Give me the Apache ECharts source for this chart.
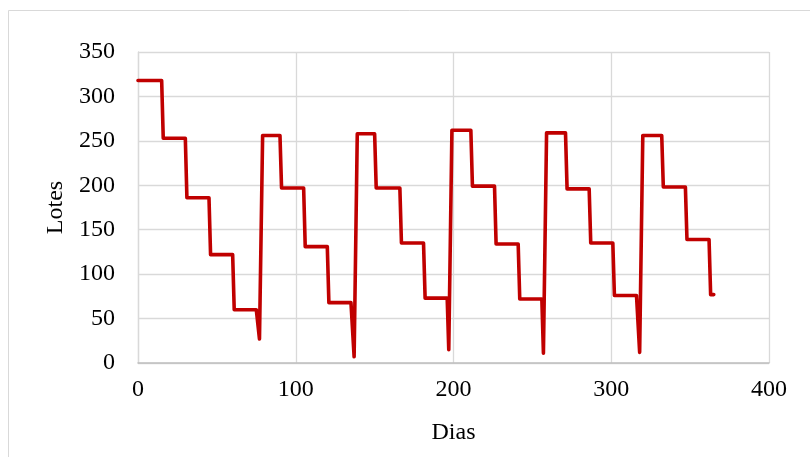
<!DOCTYPE html>
<html>
<head>
<meta charset="utf-8">
<script src="https://cdn.jsdelivr.net/npm/echarts@6/dist/echarts.min.js"></script>
<style>
  html, body { margin: 0; padding: 0; background: #fff; }
  #chart { width: 810px; height: 457px; }
</style>
</head>
<body>
<div id="chart"></div>
<script>
// Dias (x) e Lotes (y)
const dias = [
    0, 15, 16, 30, 31, 45, 46, 60, 61, 75, 77, 79,
    90, 91, 105, 106, 120, 121, 135, 137, 139,
    150, 151, 166, 167, 181, 182, 196, 197, 199,
    211, 212, 226, 227, 241, 242, 256, 257, 259,
    271, 272, 286, 287, 301, 302, 316, 318, 320,
    332, 333, 347, 348, 362, 363, 365
];
const lotes = [
    318, 318, 253, 253, 186, 186, 122, 122, 60, 60, 27, 256,
    256, 197, 197, 131, 131, 68, 68, 7, 258,
    258, 197, 197, 135, 135, 73, 73, 15, 262,
    262, 199, 199, 134, 134, 72, 72, 11, 259,
    259, 196, 196, 135, 135, 76, 76, 12, 256,
    256, 198, 198, 139, 139, 77, 77
];
const xTicks = [0, 100, 200, 300, 400];
const yTicks = [0, 50, 100, 150, 200, 250, 300, 350];

const serie = dias.map((d, i) => [d, lotes[i]]);
const fonte = '"Liberation Serif", "Times New Roman", serif';

const chart = echarts.init(document.getElementById('chart'), null, { renderer: 'canvas' });
chart.setOption({
    animation: false,
    backgroundColor: '#fff',
    graphic: [{
        type: 'rect',
        shape: { x: 8.5, y: 10.5, width: 900, height: 600 },
        style: { fill: 'none', stroke: '#d9d9d9', lineWidth: 1 },
        silent: true
    }],
    grid: { left: 138, right: 41, top: 52, bottom: 94 },
    xAxis: {
        type: 'value',
        min: xTicks[0],
        max: xTicks[xTicks.length - 1],
        interval: 100,
        name: 'Dias',
        nameLocation: 'middle',
        nameGap: 58,
        nameTextStyle: { fontFamily: fonte, fontSize: 24, color: '#000' },
        axisLine: { show: true, lineStyle: { color: '#bfbfbf', width: 1.5 } },
        axisTick: { show: false },
        axisLabel: { fontFamily: fonte, fontSize: 24, color: '#000', margin: 15 },
        splitLine: { show: true, lineStyle: { color: '#d9d9d9', width: 1.3 } }
    },
    yAxis: {
        type: 'value',
        min: yTicks[0],
        max: yTicks[yTicks.length - 1],
        interval: 50,
        name: 'Lotes',
        nameLocation: 'middle',
        nameGap: 70,
        nameRotate: 90,
        nameTextStyle: { fontFamily: fonte, fontSize: 24, color: '#000' },
        axisLine: { show: true, lineStyle: { color: '#d9d9d9', width: 1.3 } },
        axisTick: { show: false },
        axisLabel: { fontFamily: fonte, fontSize: 24, color: '#000', margin: 23 },
        splitLine: { show: true, lineStyle: { color: '#d9d9d9', width: 1.3 } }
    },
    series: [{
        type: 'line',
        data: serie,
        showSymbol: false,
        lineStyle: { color: '#c00000', width: 3.6, join: 'round', cap: 'round' },
        itemStyle: { color: '#c00000' }
    }]
});
</script>
</body>
</html>
